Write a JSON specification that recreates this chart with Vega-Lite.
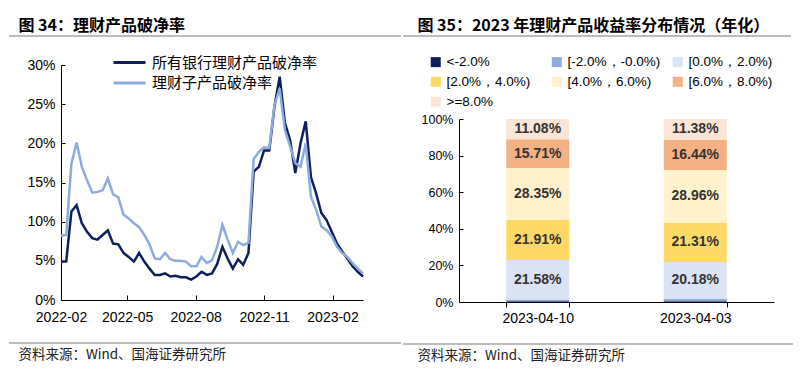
{
  "$schema": "https://vega.github.io/schema/vega-lite/v6.json",
  "background": "white",
  "padding": {"left": 8, "top": 18, "right": 0, "bottom": 0},
  "config": {
    "view": {"stroke": null},
    "font": "Liberation Sans",
    "axis": {"grid": false, "domainColor": "#000", "tickColor": "#000", "labelColor": "#000", "labelFont": "Liberation Sans"}
  },
  "spacing": 0,
  "resolve": {"scale": {"color": "independent"}, "legend": {"color": "independent"}},
  "hconcat": [
    {
      "spacing": 18,
      "resolve": {"scale": {"color": "independent"}, "legend": {"color": "independent"}},
      "vconcat": [
        {
          "width": 392, "height": 1,
          "data": {"values": [{}]},
          "mark": {"type": "rule", "color": "#7a7a7a", "strokeWidth": 1.2},
          "encoding": {
            "x": {"datum": 0, "type": "quantitative", "scale": {"domain": [0, 1]}, "axis": null},
            "x2": {"datum": 1},
            "y": {"datum": 0, "type": "quantitative", "scale": {"domain": [0, 1]}, "axis": null}
          },
          "title": {"text": "图 34：理财产品破净率", "anchor": "start", "dx": 10, "offset": 1, "fontSize": 16, "fontWeight": "bold", "font": "Noto Sans CJK SC", "color": "#000"}
        },
        {
          "spacing": 0,
          "resolve": {"scale": {"color": "independent"}, "legend": {"color": "independent"}},
          "hconcat": [
            {
              "width": 17, "height": 1,
              "data": {"values": [{}]},
              "mark": {"type": "point", "opacity": 0, "size": 0}
            },
            {
              "width": 302, "height": 235,
              "data": {"values": [
                {"d": "2022-02-01", "s": "所有银行理财产品破净率", "v": 0.049},
                {"d": "2022-02-08", "s": "所有银行理财产品破净率", "v": 0.049},
                {"d": "2022-02-15", "s": "所有银行理财产品破净率", "v": 0.113},
                {"d": "2022-02-22", "s": "所有银行理财产品破净率", "v": 0.121},
                {"d": "2022-03-01", "s": "所有银行理财产品破净率", "v": 0.098},
                {"d": "2022-03-08", "s": "所有银行理财产品破净率", "v": 0.087},
                {"d": "2022-03-15", "s": "所有银行理财产品破净率", "v": 0.079},
                {"d": "2022-03-22", "s": "所有银行理财产品破净率", "v": 0.077},
                {"d": "2022-03-29", "s": "所有银行理财产品破净率", "v": 0.083},
                {"d": "2022-04-05", "s": "所有银行理财产品破净率", "v": 0.089},
                {"d": "2022-04-12", "s": "所有银行理财产品破净率", "v": 0.072},
                {"d": "2022-04-19", "s": "所有银行理财产品破净率", "v": 0.071},
                {"d": "2022-04-26", "s": "所有银行理财产品破净率", "v": 0.060},
                {"d": "2022-05-03", "s": "所有银行理财产品破净率", "v": 0.055},
                {"d": "2022-05-10", "s": "所有银行理财产品破净率", "v": 0.049},
                {"d": "2022-05-17", "s": "所有银行理财产品破净率", "v": 0.060},
                {"d": "2022-05-24", "s": "所有银行理财产品破净率", "v": 0.049},
                {"d": "2022-05-31", "s": "所有银行理财产品破净率", "v": 0.040},
                {"d": "2022-06-07", "s": "所有银行理财产品破净率", "v": 0.032},
                {"d": "2022-06-14", "s": "所有银行理财产品破净率", "v": 0.032},
                {"d": "2022-06-21", "s": "所有银行理财产品破净率", "v": 0.034},
                {"d": "2022-06-28", "s": "所有银行理财产品破净率", "v": 0.030},
                {"d": "2022-07-05", "s": "所有银行理财产品破净率", "v": 0.031},
                {"d": "2022-07-12", "s": "所有银行理财产品破净率", "v": 0.029},
                {"d": "2022-07-19", "s": "所有银行理财产品破净率", "v": 0.029},
                {"d": "2022-07-26", "s": "所有银行理财产品破净率", "v": 0.026},
                {"d": "2022-08-02", "s": "所有银行理财产品破净率", "v": 0.030},
                {"d": "2022-08-09", "s": "所有银行理财产品破净率", "v": 0.036},
                {"d": "2022-08-16", "s": "所有银行理财产品破净率", "v": 0.032},
                {"d": "2022-08-23", "s": "所有银行理财产品破净率", "v": 0.034},
                {"d": "2022-08-30", "s": "所有银行理财产品破净率", "v": 0.046},
                {"d": "2022-09-06", "s": "所有银行理财产品破净率", "v": 0.068},
                {"d": "2022-09-13", "s": "所有银行理财产品破净率", "v": 0.053},
                {"d": "2022-09-20", "s": "所有银行理财产品破净率", "v": 0.040},
                {"d": "2022-09-27", "s": "所有银行理财产品破净率", "v": 0.052},
                {"d": "2022-10-04", "s": "所有银行理财产品破净率", "v": 0.045},
                {"d": "2022-10-11", "s": "所有银行理财产品破净率", "v": 0.060},
                {"d": "2022-10-18", "s": "所有银行理财产品破净率", "v": 0.164},
                {"d": "2022-10-25", "s": "所有银行理财产品破净率", "v": 0.170},
                {"d": "2022-11-01", "s": "所有银行理财产品破净率", "v": 0.191},
                {"d": "2022-11-08", "s": "所有银行理财产品破净率", "v": 0.191},
                {"d": "2022-11-15", "s": "所有银行理财产品破净率", "v": 0.247},
                {"d": "2022-11-22", "s": "所有银行理财产品破净率", "v": 0.285},
                {"d": "2022-11-29", "s": "所有银行理财产品破净率", "v": 0.226},
                {"d": "2022-12-06", "s": "所有银行理财产品破净率", "v": 0.204},
                {"d": "2022-12-13", "s": "所有银行理财产品破净率", "v": 0.162},
                {"d": "2022-12-20", "s": "所有银行理财产品破净率", "v": 0.200},
                {"d": "2022-12-27", "s": "所有银行理财产品破净率", "v": 0.228},
                {"d": "2023-01-03", "s": "所有银行理财产品破净率", "v": 0.157},
                {"d": "2023-01-10", "s": "所有银行理财产品破净率", "v": 0.136},
                {"d": "2023-01-17", "s": "所有银行理财产品破净率", "v": 0.111},
                {"d": "2023-01-24", "s": "所有银行理财产品破净率", "v": 0.102},
                {"d": "2023-01-31", "s": "所有银行理财产品破净率", "v": 0.087},
                {"d": "2023-02-07", "s": "所有银行理财产品破净率", "v": 0.072},
                {"d": "2023-02-14", "s": "所有银行理财产品破净率", "v": 0.062},
                {"d": "2023-02-21", "s": "所有银行理财产品破净率", "v": 0.053},
                {"d": "2023-02-28", "s": "所有银行理财产品破净率", "v": 0.043},
                {"d": "2023-03-07", "s": "所有银行理财产品破净率", "v": 0.036},
                {"d": "2023-03-14", "s": "所有银行理财产品破净率", "v": 0.030},
                {"d": "2022-02-01", "s": "理财子产品破净率", "v": 0.082},
                {"d": "2022-02-08", "s": "理财子产品破净率", "v": 0.083},
                {"d": "2022-02-15", "s": "理财子产品破净率", "v": 0.174},
                {"d": "2022-02-22", "s": "理财子产品破净率", "v": 0.201},
                {"d": "2022-03-01", "s": "理财子产品破净率", "v": 0.170},
                {"d": "2022-03-08", "s": "理财子产品破净率", "v": 0.153},
                {"d": "2022-03-15", "s": "理财子产品破净率", "v": 0.137},
                {"d": "2022-03-22", "s": "理财子产品破净率", "v": 0.138},
                {"d": "2022-03-29", "s": "理财子产品破净率", "v": 0.140},
                {"d": "2022-04-05", "s": "理财子产品破净率", "v": 0.155},
                {"d": "2022-04-12", "s": "理财子产品破净率", "v": 0.135},
                {"d": "2022-04-19", "s": "理财子产品破净率", "v": 0.131},
                {"d": "2022-04-26", "s": "理财子产品破净率", "v": 0.109},
                {"d": "2022-05-03", "s": "理财子产品破净率", "v": 0.104},
                {"d": "2022-05-10", "s": "理财子产品破净率", "v": 0.098},
                {"d": "2022-05-17", "s": "理财子产品破净率", "v": 0.093},
                {"d": "2022-05-24", "s": "理财子产品破净率", "v": 0.083},
                {"d": "2022-05-31", "s": "理财子产品破净率", "v": 0.071},
                {"d": "2022-06-07", "s": "理财子产品破净率", "v": 0.053},
                {"d": "2022-06-14", "s": "理财子产品破净率", "v": 0.052},
                {"d": "2022-06-21", "s": "理财子产品破净率", "v": 0.060},
                {"d": "2022-06-28", "s": "理财子产品破净率", "v": 0.052},
                {"d": "2022-07-05", "s": "理财子产品破净率", "v": 0.050},
                {"d": "2022-07-12", "s": "理财子产品破净率", "v": 0.050},
                {"d": "2022-07-19", "s": "理财子产品破净率", "v": 0.049},
                {"d": "2022-07-26", "s": "理财子产品破净率", "v": 0.043},
                {"d": "2022-08-02", "s": "理财子产品破净率", "v": 0.043},
                {"d": "2022-08-09", "s": "理财子产品破净率", "v": 0.055},
                {"d": "2022-08-16", "s": "理财子产品破净率", "v": 0.047},
                {"d": "2022-08-23", "s": "理财子产品破净率", "v": 0.051},
                {"d": "2022-08-30", "s": "理财子产品破净率", "v": 0.068},
                {"d": "2022-09-06", "s": "理财子产品破净率", "v": 0.096},
                {"d": "2022-09-13", "s": "理财子产品破净率", "v": 0.077},
                {"d": "2022-09-20", "s": "理财子产品破净率", "v": 0.060},
                {"d": "2022-09-27", "s": "理财子产品破净率", "v": 0.074},
                {"d": "2022-10-04", "s": "理财子产品破净率", "v": 0.070},
                {"d": "2022-10-11", "s": "理财子产品破净率", "v": 0.073},
                {"d": "2022-10-18", "s": "理财子产品破净率", "v": 0.180},
                {"d": "2022-10-25", "s": "理财子产品破净率", "v": 0.189},
                {"d": "2022-11-01", "s": "理财子产品破净率", "v": 0.195},
                {"d": "2022-11-08", "s": "理财子产品破净率", "v": 0.194},
                {"d": "2022-11-15", "s": "理财子产品破净率", "v": 0.249},
                {"d": "2022-11-22", "s": "理财子产品破净率", "v": 0.270},
                {"d": "2022-11-29", "s": "理财子产品破净率", "v": 0.217},
                {"d": "2022-12-06", "s": "理财子产品破净率", "v": 0.196},
                {"d": "2022-12-13", "s": "理财子产品破净率", "v": 0.175},
                {"d": "2022-12-20", "s": "理财子产品破净率", "v": 0.170},
                {"d": "2022-12-27", "s": "理财子产品破净率", "v": 0.200},
                {"d": "2023-01-03", "s": "理财子产品破净率", "v": 0.132},
                {"d": "2023-01-10", "s": "理财子产品破净率", "v": 0.115},
                {"d": "2023-01-17", "s": "理财子产品破净率", "v": 0.094},
                {"d": "2023-01-24", "s": "理财子产品破净率", "v": 0.089},
                {"d": "2023-01-31", "s": "理财子产品破净率", "v": 0.081},
                {"d": "2023-02-07", "s": "理财子产品破净率", "v": 0.068},
                {"d": "2023-02-14", "s": "理财子产品破净率", "v": 0.060},
                {"d": "2023-02-21", "s": "理财子产品破净率", "v": 0.055},
                {"d": "2023-02-28", "s": "理财子产品破净率", "v": 0.047},
                {"d": "2023-03-07", "s": "理财子产品破净率", "v": 0.040},
                {"d": "2023-03-14", "s": "理财子产品破净率", "v": 0.034}
              ]},
              "mark": {"type": "line", "strokeWidth": 2.5},
              "encoding": {
                "x": {
                  "field": "d", "type": "temporal",
                  "scale": {"type": "utc", "nice": false, "domain": [{"year": 2022, "month": 2, "date": 1, "utc": true}, {"year": 2023, "month": 3, "date": 14, "utc": true}]},
                  "axis": {
                    "title": null,
                    "values": [
                      {"year": 2022, "month": 2, "date": 1, "utc": true},
                      {"year": 2022, "month": 5, "date": 1, "utc": true},
                      {"year": 2022, "month": 8, "date": 1, "utc": true},
                      {"year": 2022, "month": 11, "date": 1, "utc": true},
                      {"year": 2023, "month": 2, "date": 1, "utc": true}
                    ],
                    "format": "%Y-%m",
                    "labelFontSize": 14,
                    "tickSize": -5,
                    "labelPadding": 15,
                    "labelFlush": false,
                    "labelOverlap": false
                  }
                },
                "y": {
                  "field": "v", "type": "quantitative",
                  "scale": {"domain": [0, 0.3], "nice": false},
                  "axis": {
                    "title": null,
                    "values": [0, 0.05, 0.1, 0.15, 0.2, 0.25, 0.3],
                    "format": ".0%",
                    "labelFontSize": 14,
                    "tickSize": -4,
                    "labelPadding": 10
                  }
                },
                "color": {
                  "field": "s", "type": "nominal",
                  "scale": {"domain": ["所有银行理财产品破净率", "理财子产品破净率"], "range": ["#0d1f5c", "#8faadc"]},
                  "legend": {
                    "title": null, "orient": "none", "legendX": 61, "legendY": -10,
                    "padding": 0, "symbolType": "M-3.2,0L3.2,0", "symbolSize": 100, "symbolStrokeWidth": 3,
                    "labelFontSize": 15, "labelFont": "Noto Sans CJK SC", "labelColor": "#000",
                    "labelOffset": 15, "rowPadding": 4.5, "labelLimit": 300
                  }
                }
              }
            }
          ]
        },
        {
          "width": 392, "height": 1,
          "data": {"values": [{}]},
          "mark": {"type": "rule", "color": "#7a7a7a", "strokeWidth": 1.2},
          "encoding": {
            "x": {"datum": 0, "type": "quantitative", "scale": {"domain": [0, 1]}, "axis": null},
            "x2": {"datum": 1},
            "y": {"datum": 1, "type": "quantitative", "scale": {"domain": [0, 1]}, "axis": null}
          },
          "title": {"text": "资料来源：Wind、国海证券研究所", "orient": "bottom", "anchor": "start", "dx": 10, "offset": 4, "fontSize": 13.5, "fontWeight": "normal", "font": "Noto Sans CJK SC", "color": "#222"}
        }
      ]
    },
    {
      "spacing": 18,
      "resolve": {"scale": {"color": "independent"}, "legend": {"color": "independent"}},
      "vconcat": [
        {
          "width": 388, "height": 1,
          "data": {"values": [{}]},
          "mark": {"type": "rule", "color": "#7a7a7a", "strokeWidth": 1.2},
          "encoding": {
            "x": {"datum": 0, "type": "quantitative", "scale": {"domain": [0, 1]}, "axis": null},
            "x2": {"datum": 1},
            "y": {"datum": 0, "type": "quantitative", "scale": {"domain": [0, 1]}, "axis": null}
          },
          "title": {"text": "图 35：2023 年理财产品收益率分布情况（年化）", "anchor": "start", "dx": 15, "offset": 1, "fontSize": 16, "fontWeight": "bold", "font": "Noto Sans CJK SC", "color": "#000"}
        },
        {
          "spacing": 0,
          "resolve": {"scale": {"color": "independent"}, "legend": {"color": "independent"}},
          "hconcat": [
            {
              "width": 18, "height": 1,
              "data": {"values": [{}]},
              "mark": {"type": "point", "opacity": 0, "size": 0}
            },
            {
              "width": 315, "height": 183,
              "data": {"values": [
                {"date": "2023-04-10", "cat": "<-2.0%", "k": 1, "v": 0.0035},
                {"date": "2023-04-10", "cat": "[-2.0%，-0.0%)", "k": 2, "v": 0.0102},
                {"date": "2023-04-10", "cat": "[0.0%，2.0%)", "k": 3, "v": 0.2158},
                {"date": "2023-04-10", "cat": "[2.0%，4.0%)", "k": 4, "v": 0.2191},
                {"date": "2023-04-10", "cat": "[4.0%，6.0%)", "k": 5, "v": 0.2835},
                {"date": "2023-04-10", "cat": "[6.0%，8.0%)", "k": 6, "v": 0.1571},
                {"date": "2023-04-10", "cat": ">=8.0%", "k": 7, "v": 0.1108},
                {"date": "2023-04-03", "cat": "<-2.0%", "k": 1, "v": 0.0045},
                {"date": "2023-04-03", "cat": "[-2.0%，-0.0%)", "k": 2, "v": 0.0128},
                {"date": "2023-04-03", "cat": "[0.0%，2.0%)", "k": 3, "v": 0.2018},
                {"date": "2023-04-03", "cat": "[2.0%，4.0%)", "k": 4, "v": 0.2131},
                {"date": "2023-04-03", "cat": "[4.0%，6.0%)", "k": 5, "v": 0.2896},
                {"date": "2023-04-03", "cat": "[6.0%，8.0%)", "k": 6, "v": 0.1644},
                {"date": "2023-04-03", "cat": ">=8.0%", "k": 7, "v": 0.1138}
              ]},
              "encoding": {
                "x": {
                  "field": "date", "type": "nominal", "sort": ["2023-04-10", "2023-04-03"],
                  "scale": {"paddingInner": 0.6, "paddingOuter": 0.3},
                  "axis": {"title": null, "labelAngle": 0, "labelFontSize": 14, "tickBand": "extent", "tickSize": 5, "labelPadding": 4}
                },
                "y": {
                  "field": "v", "type": "quantitative", "stack": "zero",
                  "scale": {"domain": [0, 1], "nice": false},
                  "axis": {"title": null, "values": [0, 0.2, 0.4, 0.6, 0.8, 1], "format": ".0%", "labelFontSize": 12.5, "tickSize": -4, "labelPadding": 10}
                }
              },
              "layer": [
                {
                  "mark": {"type": "bar"},
                  "encoding": {
                    "color": {
                      "field": "cat", "type": "nominal",
                      "scale": {
                        "domain": ["<-2.0%", "[-2.0%，-0.0%)", "[0.0%，2.0%)", "[2.0%，4.0%)", "[4.0%，6.0%)", "[6.0%，8.0%)", ">=8.0%"],
                        "range": ["#0d1f5c", "#8faadc", "#dae3f3", "#ffd966", "#fff2cc", "#f4b183", "#fbe5d6"]
                      },
                      "legend": {
                        "title": null, "orient": "none", "direction": "horizontal", "legendX": -30, "legendY": -64, "padding": 0,
                        "columns": 3, "gridAlign": "all", "columnPadding": 10, "rowPadding": 5,
                        "symbolType": "square", "symbolSize": 100, "symbolStrokeWidth": 0,
                        "labelFontSize": 13.5, "labelFont": "Liberation Sans", "labelColor": "#000", "labelOffset": 4
                      }
                    },
                    "order": {"field": "k", "type": "quantitative"}
                  }
                },
                {
                  "mark": {"type": "text", "fontSize": 14, "fontWeight": "bold", "font": "Liberation Sans", "color": "#333"},
                  "encoding": {
                    "y": {"field": "v", "type": "quantitative", "stack": "zero", "bandPosition": 0.5},
                    "detail": {"field": "cat"},
                    "order": {"field": "k", "type": "quantitative"},
                    "text": {"condition": {"test": "datum.v > 0.05", "field": "v", "type": "quantitative", "format": ".2%"}, "value": ""}
                  }
                }
              ]
            }
          ]
        },
        {
          "width": 390, "height": 1,
          "data": {"values": [{}]},
          "mark": {"type": "rule", "color": "#7a7a7a", "strokeWidth": 1.2},
          "encoding": {
            "x": {"datum": 0, "type": "quantitative", "scale": {"domain": [0, 1]}, "axis": null},
            "x2": {"datum": 1},
            "y": {"datum": 1, "type": "quantitative", "scale": {"domain": [0, 1]}, "axis": null}
          },
          "title": {"text": "资料来源：Wind、国海证券研究所", "orient": "bottom", "anchor": "start", "dx": 15, "offset": 4, "fontSize": 13.5, "fontWeight": "normal", "font": "Noto Sans CJK SC", "color": "#222"}
        }
      ]
    }
  ]
}
